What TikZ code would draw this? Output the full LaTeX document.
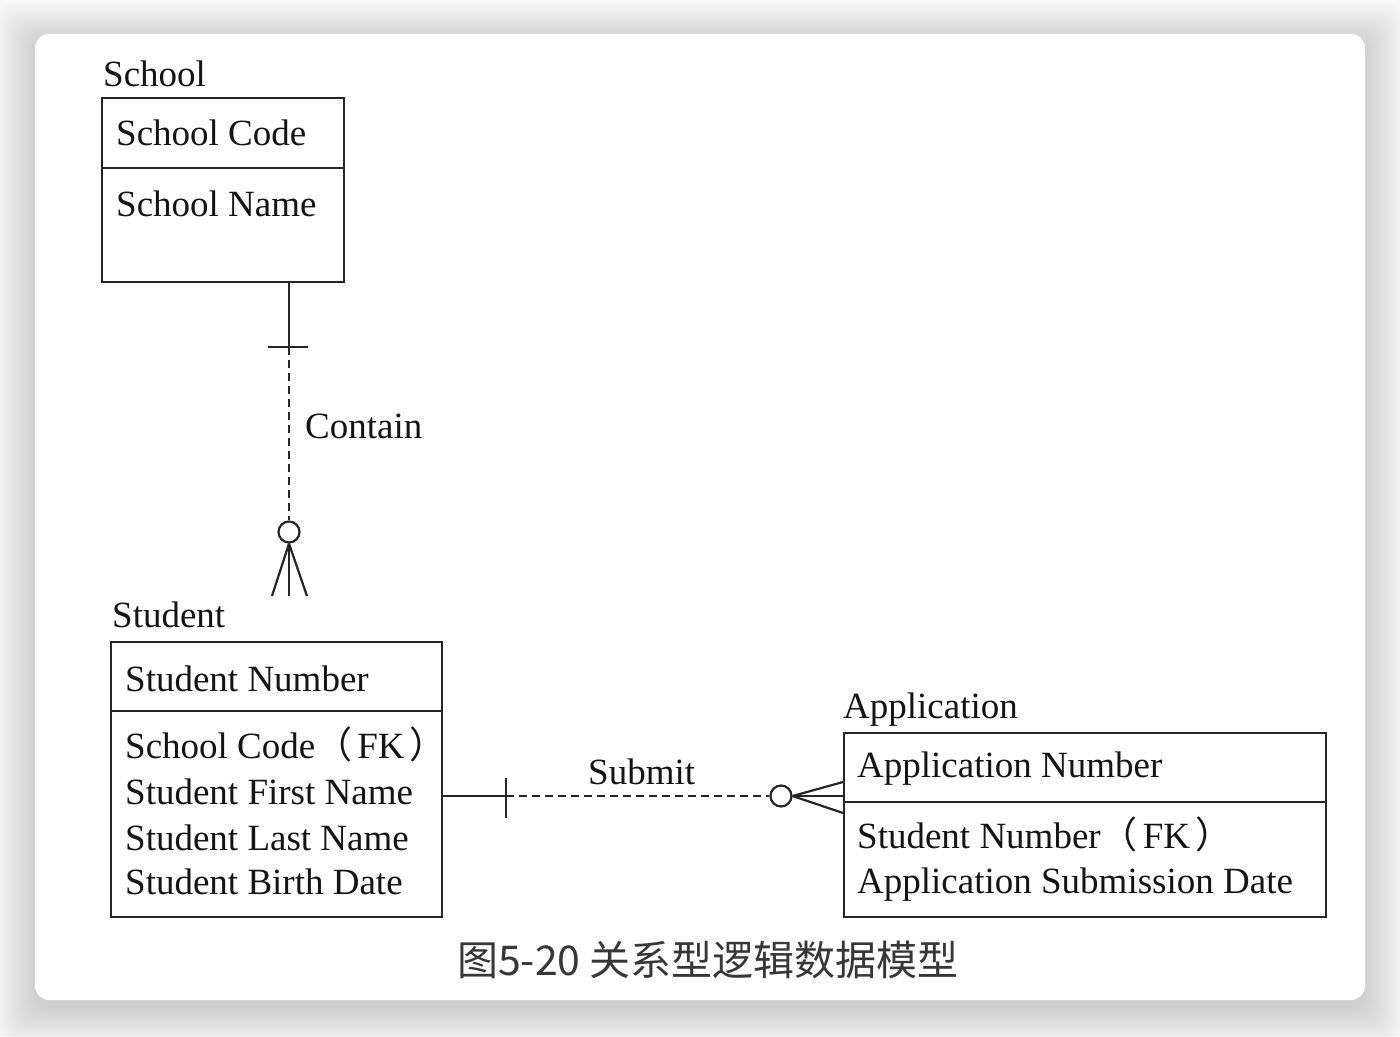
\documentclass[tikz,border=0pt]{standalone}
\usepackage{fontspec}
\setmainfont{Liberation Serif}
\newfontfamily\cjk{Noto Sans CJK SC}
\definecolor{inkc}{HTML}{141414}
\definecolor{linec}{HTML}{262626}
\definecolor{pagebg}{HTML}{F8F8F8}
\newcommand{\fkpar}{{\cjk （}\kern5pt FK\kern5pt{\cjk ）}}
\begin{document}
\begin{tikzpicture}[x=1pt,y=-1pt,
  ent/.style={draw=linec, line width=2.3pt, anchor=north west, inner sep=0pt},
  txt/.style={anchor=base west, inner sep=0pt, text=inkc, font=\fontsize{37}{44}\selectfont},
  conn/.style={draw=linec, line width=2.2pt},
  dashconn/.style={conn, dash pattern=on 8pt off 5pt},
  ring/.style={circle, draw=linec, line width=2.2pt, minimum size=21pt, inner sep=0pt}
]
% background and card
\fill[pagebg] (0,0) rectangle (1400,1036);
\useasboundingbox (0,0) rectangle (1400,1036);
\foreach \i in {1,...,40}{
  \fill[black, opacity=0.0038, rounded corners=16pt] (35-\i,42-\i) rectangle (1365+\i,1008+\i);
}
\fill[white, rounded corners=14pt] (35,34) rectangle (1365,1000);

% School entity
\node[txt] (schooltitle) at (103,86) {School};
\node[ent, minimum width=242pt, minimum height=184pt] (school) at (101,97) {};
\draw[conn] ([yshift=-71pt]school.north west) -- ([yshift=-71pt]school.north east);
\node[txt] (schoolcode) at (116,145) {School Code};
\node[txt] (schoolname) at (116,216) {School Name};

% Student entity
\node[txt] (studenttitle) at (112,627) {Student};
\node[ent, minimum width=331pt, minimum height=275pt] (student) at (110,641) {};
\draw[conn] ([yshift=-70pt]student.north west) -- ([yshift=-70pt]student.north east);
\node[txt] (stunum) at (125,691) {Student Number};
\node[txt] (stuschool) at (125,758) {School Code\fkpar};
\node[txt] (stufirst) at (125,804) {Student First Name};
\node[txt] (stulast) at (125,850) {Student Last Name};
\node[txt] (stubirth) at (125,894) {Student Birth Date};

% Application entity
\node[txt] (apptitle) at (843,718) {Application};
\node[ent, minimum width=482pt, minimum height=184pt] (app) at (843,732) {};
\draw[conn] ([yshift=-70pt]app.north west) -- ([yshift=-70pt]app.north east);
\node[txt] (appnum) at (857,777) {Application Number};
\node[txt] (appstu) at (857,848) {Student Number\fkpar};
\node[txt] (appdate) at (857,893) {Application Submission Date};

% Contain relationship (School 1 -- 0..n Student)
\coordinate (schoolbar) at (289,347);
\coordinate (footl) at (272,596);
\coordinate (footm) at (289,596);
\coordinate (footr) at (307,596);
\node[ring] (ring1) at (289,532) {};
\draw[conn] (school.south -| schoolbar) -- (schoolbar);
\draw[conn] ([xshift=-21pt]schoolbar) -- ([xshift=19pt]schoolbar);
\draw[dashconn] (schoolbar) -- (ring1.north);
\draw[conn] (ring1.south) -- (footl);
\draw[conn] (ring1.south) -- (footm);
\draw[conn] (ring1.south) -- (footr);
\node[txt] (contain) at (305,438) {Contain};

% Submit relationship (Student 1 -- 0..n Application)
\coordinate (subbar) at (506,796);
\coordinate (appmid) at (843,796);
\node[ring] (ring2) at (781,796) {};
\draw[conn] (student.east |- subbar) -- (subbar);
\draw[conn] ([yshift=18pt]subbar) -- ([yshift=-22pt]subbar);
\draw[dashconn] (subbar) -- (ring2.west);
\draw[conn] (ring2.east) -- (app.west |- 0,782);
\draw[conn] (ring2.east) -- (app.west |- appmid);
\draw[conn] (ring2.east) -- (app.west |- 0,813);
\node[txt] (submit) at (588,784) {Submit};

% caption
\node[anchor=base, inner sep=0pt, text=inkc!85, font=\cjk\fontsize{41}{48}\selectfont] (caption) at (708,975) {图5-20 关系型逻辑数据模型};
\end{tikzpicture}
\end{document}
